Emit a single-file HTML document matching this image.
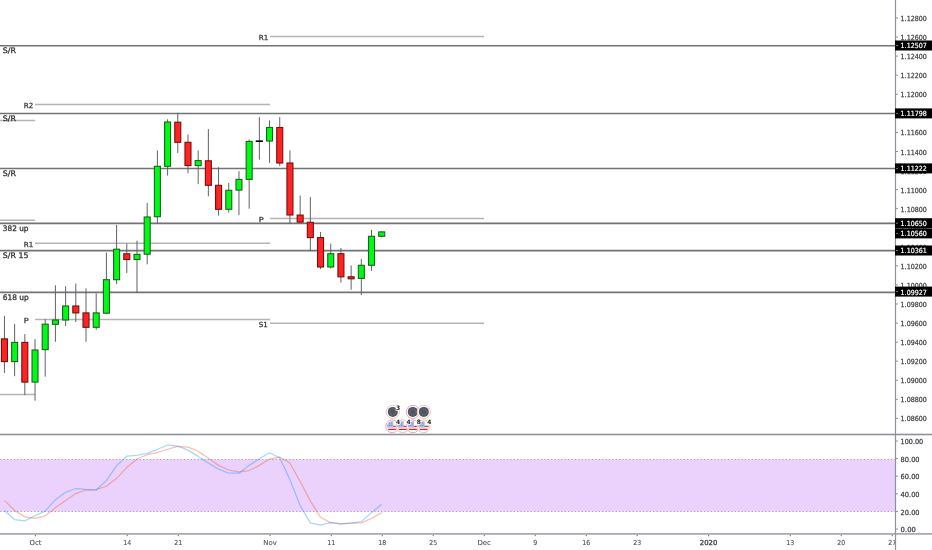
<!DOCTYPE html><html><head><meta charset="utf-8"><title>EURUSD chart</title><style>
html,body{margin:0;padding:0;background:#fff;width:932px;height:550px;overflow:hidden}
svg{display:block;will-change:transform}
text{font-family:"DejaVu Sans","Liberation Sans",sans-serif}
.lb{font-size:7.6px;fill:#333333;stroke:#333333;stroke-width:0.3px}
.ax{font-size:7.0px;fill:#444444;stroke:#444444;stroke-width:0.25px}
.pv{font-size:7.0px;fill:#333333;stroke:#333333;stroke-width:0.25px}
.tx{font-size:6.9px;fill:#505050;stroke:#505050;stroke-width:0.1px}
.wt{font-size:7.0px;fill:#fff;stroke:#fff;stroke-width:0.2px}
</style></head><body>
<svg width="932" height="550" viewBox="0 0 932 550">
<rect width="932" height="550" fill="#fff"/>
<line x1="0" y1="120.5" x2="35" y2="120.5" stroke="#b4b4b4" stroke-width="1.5"/>
<line x1="0" y1="220.2" x2="35" y2="220.2" stroke="#b4b4b4" stroke-width="1.5"/>
<line x1="0" y1="394.4" x2="35" y2="394.4" stroke="#b4b4b4" stroke-width="1.5"/>
<line x1="35" y1="104.6" x2="270" y2="104.6" stroke="#b4b4b4" stroke-width="1.5"/>
<text class="pv" x="23.8" y="107.8" textLength="9.5" lengthAdjust="spacingAndGlyphs">R2</text>
<line x1="35" y1="243.3" x2="270" y2="243.3" stroke="#b4b4b4" stroke-width="1.5"/>
<text class="pv" x="23.8" y="246.5" textLength="9.5" lengthAdjust="spacingAndGlyphs">R1</text>
<line x1="35" y1="319.5" x2="270" y2="319.5" stroke="#b4b4b4" stroke-width="1.5"/>
<text class="pv" x="23.8" y="322.7" textLength="4.9" lengthAdjust="spacingAndGlyphs">P</text>
<line x1="270" y1="36.56" x2="484" y2="36.56" stroke="#b4b4b4" stroke-width="1.5"/>
<text class="pv" x="258.8" y="39.76" textLength="9.5" lengthAdjust="spacingAndGlyphs">R1</text>
<line x1="270" y1="218.5" x2="484" y2="218.5" stroke="#b4b4b4" stroke-width="1.5"/>
<text class="pv" x="258.8" y="221.7" textLength="4.9" lengthAdjust="spacingAndGlyphs">P</text>
<line x1="270" y1="323.3" x2="484" y2="323.3" stroke="#b4b4b4" stroke-width="1.5"/>
<text class="pv" x="258.8" y="326.5" textLength="9" lengthAdjust="spacingAndGlyphs">S1</text>
<line x1="0" y1="45.8" x2="895" y2="45.8" stroke="#737373" stroke-width="1.6"/>
<text class="lb" x="2.8" y="53.2" textLength="13.2" lengthAdjust="spacingAndGlyphs">S/R</text>
<line x1="0" y1="113.45" x2="895" y2="113.45" stroke="#737373" stroke-width="1.6"/>
<text class="lb" x="2.8" y="121.1" textLength="13.2" lengthAdjust="spacingAndGlyphs">S/R</text>
<line x1="0" y1="168.5" x2="895" y2="168.5" stroke="#737373" stroke-width="1.6"/>
<text class="lb" x="2.8" y="176.15" textLength="13.2" lengthAdjust="spacingAndGlyphs">S/R</text>
<line x1="0" y1="223.35" x2="895" y2="223.35" stroke="#737373" stroke-width="1.6"/>
<text class="lb" x="2.8" y="230.9" textLength="25.7" lengthAdjust="spacingAndGlyphs">382 up</text>
<line x1="0" y1="250.67" x2="895" y2="250.67" stroke="#737373" stroke-width="1.6"/>
<text class="lb" x="2.8" y="258.2" textLength="25.6" lengthAdjust="spacingAndGlyphs">S/R 15</text>
<line x1="0" y1="292.33" x2="895" y2="292.33" stroke="#737373" stroke-width="1.6"/>
<text class="lb" x="2.8" y="299.7" textLength="26" lengthAdjust="spacingAndGlyphs">618 up</text>
<line x1="4.429" y1="316.4" x2="4.429" y2="372.5" stroke="#5f626a" stroke-width="1" stroke-linecap="square"/>
<rect x="1.429" y="338.9" width="6" height="22.7" fill="#ff2424" stroke="#7a0c0c" stroke-width="1.1"/>
<line x1="14.626" y1="324.5" x2="14.626" y2="375.7" stroke="#5f626a" stroke-width="1" stroke-linecap="square"/>
<rect x="11.626" y="342.4" width="6" height="19.2" fill="#00fa18" stroke="#1c641c" stroke-width="1.1"/>
<line x1="24.823" y1="334.6" x2="24.823" y2="394.7" stroke="#5f626a" stroke-width="1" stroke-linecap="square"/>
<rect x="21.823" y="342.4" width="6" height="39.7" fill="#ff2424" stroke="#7a0c0c" stroke-width="1.1"/>
<line x1="35.02" y1="339.7" x2="35.02" y2="400.2" stroke="#5f626a" stroke-width="1" stroke-linecap="square"/>
<rect x="32.02" y="350" width="6" height="32.1" fill="#00fa18" stroke="#1c641c" stroke-width="1.1"/>
<line x1="45.217" y1="319.6" x2="45.217" y2="376.2" stroke="#5f626a" stroke-width="1" stroke-linecap="square"/>
<rect x="42.217" y="324.2" width="6" height="25.4" fill="#00fa18" stroke="#1c641c" stroke-width="1.1"/>
<line x1="55.414" y1="285.8" x2="55.414" y2="341.3" stroke="#5f626a" stroke-width="1" stroke-linecap="square"/>
<rect x="52.414" y="320" width="6" height="4.3" fill="#00fa18" stroke="#1c641c" stroke-width="1.1"/>
<line x1="65.611" y1="286.7" x2="65.611" y2="325.6" stroke="#5f626a" stroke-width="1" stroke-linecap="square"/>
<rect x="62.611" y="306" width="6" height="14" fill="#00fa18" stroke="#1c641c" stroke-width="1.1"/>
<line x1="75.808" y1="284.1" x2="75.808" y2="321.6" stroke="#5f626a" stroke-width="1" stroke-linecap="square"/>
<rect x="72.808" y="306" width="6" height="6.9" fill="#ff2424" stroke="#7a0c0c" stroke-width="1.1"/>
<line x1="86.005" y1="288.9" x2="86.005" y2="341.3" stroke="#5f626a" stroke-width="1" stroke-linecap="square"/>
<rect x="83.005" y="312.9" width="6" height="14.4" fill="#ff2424" stroke="#7a0c0c" stroke-width="1.1"/>
<line x1="96.202" y1="293.9" x2="96.202" y2="329.3" stroke="#5f626a" stroke-width="1" stroke-linecap="square"/>
<rect x="93.202" y="312.9" width="6" height="14.4" fill="#00fa18" stroke="#1c641c" stroke-width="1.1"/>
<line x1="106.399" y1="253.1" x2="106.399" y2="313.4" stroke="#5f626a" stroke-width="1" stroke-linecap="square"/>
<rect x="103.399" y="279.7" width="6" height="33.5" fill="#00fa18" stroke="#1c641c" stroke-width="1.1"/>
<line x1="116.596" y1="225.4" x2="116.596" y2="283.5" stroke="#5f626a" stroke-width="1" stroke-linecap="square"/>
<rect x="113.596" y="249.2" width="6" height="30.5" fill="#00fa18" stroke="#1c641c" stroke-width="1.1"/>
<line x1="126.793" y1="244.1" x2="126.793" y2="272.5" stroke="#5f626a" stroke-width="1" stroke-linecap="square"/>
<rect x="123.793" y="253.8" width="6" height="5.7" fill="#ff2424" stroke="#7a0c0c" stroke-width="1.1"/>
<line x1="136.99" y1="241.2" x2="136.99" y2="292.6" stroke="#5f626a" stroke-width="1" stroke-linecap="square"/>
<rect x="133.99" y="254.4" width="6" height="5.1" fill="#00fa18" stroke="#1c641c" stroke-width="1.1"/>
<line x1="147.187" y1="203.4" x2="147.187" y2="263.8" stroke="#5f626a" stroke-width="1" stroke-linecap="square"/>
<rect x="144.187" y="217" width="6" height="37.2" fill="#00fa18" stroke="#1c641c" stroke-width="1.1"/>
<line x1="157.384" y1="151" x2="157.384" y2="223.2" stroke="#5f626a" stroke-width="1" stroke-linecap="square"/>
<rect x="154.384" y="166.3" width="6" height="50.4" fill="#00fa18" stroke="#1c641c" stroke-width="1.1"/>
<line x1="167.581" y1="119.8" x2="167.581" y2="175" stroke="#5f626a" stroke-width="1" stroke-linecap="square"/>
<rect x="164.581" y="122" width="6" height="44.3" fill="#00fa18" stroke="#1c641c" stroke-width="1.1"/>
<line x1="177.778" y1="113.3" x2="177.778" y2="152.5" stroke="#5f626a" stroke-width="1" stroke-linecap="square"/>
<rect x="174.778" y="122.2" width="6" height="20.1" fill="#ff2424" stroke="#7a0c0c" stroke-width="1.1"/>
<line x1="187.975" y1="135.1" x2="187.975" y2="172.8" stroke="#5f626a" stroke-width="1" stroke-linecap="square"/>
<rect x="184.975" y="142.3" width="6" height="23.3" fill="#ff2424" stroke="#7a0c0c" stroke-width="1.1"/>
<line x1="198.172" y1="151" x2="198.172" y2="183.7" stroke="#5f626a" stroke-width="1" stroke-linecap="square"/>
<rect x="195.172" y="160.6" width="6" height="5" fill="#00fa18" stroke="#1c641c" stroke-width="1.1"/>
<line x1="208.369" y1="129.6" x2="208.369" y2="195.8" stroke="#5f626a" stroke-width="1" stroke-linecap="square"/>
<rect x="205.369" y="160.8" width="6" height="24.5" fill="#ff2424" stroke="#7a0c0c" stroke-width="1.1"/>
<line x1="218.566" y1="167.8" x2="218.566" y2="215.2" stroke="#5f626a" stroke-width="1" stroke-linecap="square"/>
<rect x="215.566" y="185.3" width="6" height="24" fill="#ff2424" stroke="#7a0c0c" stroke-width="1.1"/>
<line x1="228.763" y1="183.5" x2="228.763" y2="212.1" stroke="#5f626a" stroke-width="1" stroke-linecap="square"/>
<rect x="225.763" y="190.3" width="6" height="19" fill="#00fa18" stroke="#1c641c" stroke-width="1.1"/>
<line x1="238.96" y1="171.7" x2="238.96" y2="214.7" stroke="#5f626a" stroke-width="1" stroke-linecap="square"/>
<rect x="235.96" y="179.4" width="6" height="10.7" fill="#00fa18" stroke="#1c641c" stroke-width="1.1"/>
<line x1="249.157" y1="140.1" x2="249.157" y2="208.2" stroke="#5f626a" stroke-width="1" stroke-linecap="square"/>
<rect x="246.157" y="141.4" width="6" height="38" fill="#00fa18" stroke="#1c641c" stroke-width="1.1"/>
<line x1="259.354" y1="117.6" x2="259.354" y2="159.1" stroke="#5f626a" stroke-width="1" stroke-linecap="square"/>
<line x1="255.754" y1="141.2" x2="262.954" y2="141.2" stroke="#000" stroke-width="1.6"/>
<line x1="269.551" y1="120.9" x2="269.551" y2="162.4" stroke="#5f626a" stroke-width="1" stroke-linecap="square"/>
<rect x="266.551" y="127.5" width="6" height="13.5" fill="#00fa18" stroke="#1c641c" stroke-width="1.1"/>
<line x1="279.748" y1="117.6" x2="279.748" y2="165.6" stroke="#5f626a" stroke-width="1" stroke-linecap="square"/>
<rect x="276.748" y="127.5" width="6" height="35.5" fill="#ff2424" stroke="#7a0c0c" stroke-width="1.1"/>
<line x1="289.945" y1="151" x2="289.945" y2="223.5" stroke="#5f626a" stroke-width="1" stroke-linecap="square"/>
<rect x="286.945" y="163" width="6" height="52" fill="#ff2424" stroke="#7a0c0c" stroke-width="1.1"/>
<line x1="300.142" y1="196.1" x2="300.142" y2="222.1" stroke="#5f626a" stroke-width="1" stroke-linecap="square"/>
<rect x="297.142" y="215.1" width="6" height="7" fill="#ff2424" stroke="#7a0c0c" stroke-width="1.1"/>
<line x1="310.339" y1="197.5" x2="310.339" y2="250.7" stroke="#5f626a" stroke-width="1" stroke-linecap="square"/>
<rect x="307.339" y="222.3" width="6" height="15.3" fill="#ff2424" stroke="#7a0c0c" stroke-width="1.1"/>
<line x1="320.536" y1="232.5" x2="320.536" y2="268.6" stroke="#5f626a" stroke-width="1" stroke-linecap="square"/>
<rect x="317.536" y="237.6" width="6" height="29.4" fill="#ff2424" stroke="#7a0c0c" stroke-width="1.1"/>
<line x1="330.733" y1="244.1" x2="330.733" y2="268.1" stroke="#5f626a" stroke-width="1" stroke-linecap="square"/>
<rect x="327.733" y="253.7" width="6" height="13.3" fill="#00fa18" stroke="#1c641c" stroke-width="1.1"/>
<line x1="340.93" y1="248.5" x2="340.93" y2="282.1" stroke="#5f626a" stroke-width="1" stroke-linecap="square"/>
<rect x="337.93" y="253.7" width="6" height="23.1" fill="#ff2424" stroke="#7a0c0c" stroke-width="1.1"/>
<line x1="351.127" y1="265.9" x2="351.127" y2="289.3" stroke="#5f626a" stroke-width="1" stroke-linecap="square"/>
<rect x="348.127" y="276.8" width="6" height="2" fill="#ff2424" stroke="#7a0c0c" stroke-width="1.1"/>
<line x1="361.324" y1="259.4" x2="361.324" y2="294.7" stroke="#5f626a" stroke-width="1" stroke-linecap="square"/>
<rect x="358.324" y="265.3" width="6" height="13.1" fill="#00fa18" stroke="#1c641c" stroke-width="1.1"/>
<line x1="371.521" y1="230.4" x2="371.521" y2="270.3" stroke="#5f626a" stroke-width="1" stroke-linecap="square"/>
<rect x="368.521" y="236.3" width="6" height="29" fill="#00fa18" stroke="#1c641c" stroke-width="1.1"/>
<line x1="381.718" y1="231.9" x2="381.718" y2="236.9" stroke="#5f626a" stroke-width="1" stroke-linecap="square"/>
<rect x="378.718" y="231.9" width="6" height="4.4" fill="#00fa18" stroke="#1c641c" stroke-width="1.1"/>
<circle cx="392.8" cy="411.9" r="6.6" fill="#fff" stroke="#f4c4b0" stroke-width="1"/><circle cx="392.8" cy="411.9" r="5" fill="#4c5562"/><circle cx="392.8" cy="411.9" r="2.9" fill="none" stroke="#a88e98" stroke-width="0.7" stroke-dasharray="0.8 1.0"/>
<circle cx="412.8" cy="411.9" r="6.6" fill="#fff" stroke="#eca8bc" stroke-width="1"/><circle cx="412.8" cy="411.9" r="5" fill="#4c5562"/><circle cx="412.8" cy="411.9" r="2.9" fill="none" stroke="#a88e98" stroke-width="0.7" stroke-dasharray="0.8 1.0"/>
<circle cx="423.8" cy="411.9" r="6.6" fill="#fff" stroke="#f4c4b0" stroke-width="1"/><circle cx="423.8" cy="411.9" r="5" fill="#4c5562"/><circle cx="423.8" cy="411.9" r="2.9" fill="none" stroke="#a88e98" stroke-width="0.7" stroke-dasharray="0.8 1.0"/>
<circle cx="392.2" cy="426.3" r="6.4" fill="#fff" stroke="#eaa6c0" stroke-width="1"/><clipPath id="c3922"><circle cx="392.2" cy="426.3" r="5.1"/></clipPath><g clip-path="url(#c3922)"><rect x="386.7" y="420.8" width="11" height="11" fill="#fff"/><rect x="386.7" y="425.8" width="11" height="1.1" fill="#f01818"/><rect x="386.7" y="428.8" width="11" height="1.2" fill="#f01818"/><rect x="386.7" y="420.8" width="6.6" height="6.8" fill="#a9b6e8"/><rect x="388.8" y="422.7" width="0.9" height="0.9" fill="#5f9a90"/><rect x="388.8" y="424.9" width="0.9" height="0.9" fill="#5f9a90"/><rect x="390.8" y="422.7" width="0.9" height="0.9" fill="#5f9a90"/><rect x="390.8" y="424.9" width="0.9" height="0.9" fill="#5f9a90"/></g>
<circle cx="402.6" cy="426.3" r="6.4" fill="#fff" stroke="#f4c4b0" stroke-width="1"/><clipPath id="c4026"><circle cx="402.6" cy="426.3" r="5.1"/></clipPath><g clip-path="url(#c4026)"><rect x="397.1" y="420.8" width="11" height="11" fill="#fff"/><rect x="397.1" y="425.8" width="11" height="1.1" fill="#f01818"/><rect x="397.1" y="428.8" width="11" height="1.2" fill="#f01818"/><rect x="397.1" y="420.8" width="6.6" height="6.8" fill="#a9b6e8"/><rect x="399.2" y="422.7" width="0.9" height="0.9" fill="#5f9a90"/><rect x="399.2" y="424.9" width="0.9" height="0.9" fill="#5f9a90"/><rect x="401.2" y="422.7" width="0.9" height="0.9" fill="#5f9a90"/><rect x="401.2" y="424.9" width="0.9" height="0.9" fill="#5f9a90"/></g>
<circle cx="412.9" cy="426.3" r="6.4" fill="#fff" stroke="#eaa6c0" stroke-width="1"/><clipPath id="c4129"><circle cx="412.9" cy="426.3" r="5.1"/></clipPath><g clip-path="url(#c4129)"><rect x="407.4" y="420.8" width="11" height="11" fill="#fff"/><rect x="407.4" y="425.8" width="11" height="1.1" fill="#f01818"/><rect x="407.4" y="428.8" width="11" height="1.2" fill="#f01818"/><rect x="407.4" y="420.8" width="6.6" height="6.8" fill="#a9b6e8"/><rect x="409.5" y="422.7" width="0.9" height="0.9" fill="#5f9a90"/><rect x="409.5" y="424.9" width="0.9" height="0.9" fill="#5f9a90"/><rect x="411.5" y="422.7" width="0.9" height="0.9" fill="#5f9a90"/><rect x="411.5" y="424.9" width="0.9" height="0.9" fill="#5f9a90"/></g>
<circle cx="423.6" cy="426.3" r="6.4" fill="#fff" stroke="#f4c4b0" stroke-width="1"/><clipPath id="c4236"><circle cx="423.6" cy="426.3" r="5.1"/></clipPath><g clip-path="url(#c4236)"><rect x="418.1" y="420.8" width="11" height="11" fill="#fff"/><rect x="418.1" y="425.8" width="11" height="1.1" fill="#f01818"/><rect x="418.1" y="428.8" width="11" height="1.2" fill="#f01818"/><rect x="418.1" y="420.8" width="6.6" height="6.8" fill="#a9b6e8"/><rect x="420.2" y="422.7" width="0.9" height="0.9" fill="#5f9a90"/><rect x="420.2" y="424.9" width="0.9" height="0.9" fill="#5f9a90"/><rect x="422.2" y="422.7" width="0.9" height="0.9" fill="#5f9a90"/><rect x="422.2" y="424.9" width="0.9" height="0.9" fill="#5f9a90"/></g>
<text x="398.2" y="409.9" font-size="6" font-weight="bold" fill="#1a1a1a" text-anchor="middle" stroke="#fff" stroke-width="1.4" paint-order="stroke">3</text>
<text x="398.2" y="423.9" font-size="6" font-weight="bold" fill="#1a1a1a" text-anchor="middle" stroke="#fff" stroke-width="1.4" paint-order="stroke">4</text>
<text x="408.6" y="423.9" font-size="6" font-weight="bold" fill="#1a1a1a" text-anchor="middle" stroke="#fff" stroke-width="1.4" paint-order="stroke">4</text>
<text x="418.8" y="423.9" font-size="6" font-weight="bold" fill="#1a1a1a" text-anchor="middle" stroke="#fff" stroke-width="1.4" paint-order="stroke">8</text>
<text x="429.3" y="423.9" font-size="6" font-weight="bold" fill="#1a1a1a" text-anchor="middle" stroke="#fff" stroke-width="1.4" paint-order="stroke">4</text>
<rect x="0" y="459.3" width="895" height="52.2" fill="#ead2fd"/>
<line x1="0" y1="459.5" x2="895" y2="459.5" stroke="#b0a2c4" stroke-width="1" stroke-dasharray="1.4 2" stroke-dashoffset="3.2"/>
<line x1="0" y1="511.5" x2="895" y2="511.5" stroke="#b0a2c4" stroke-width="1" stroke-dasharray="1.4 2" stroke-dashoffset="3.2"/>
<polyline points="4.429,500.4 14.626,510.52 24.823,516.856 35.02,518.44 45.217,515.8 55.414,507.704 65.611,500.4 75.808,493.536 86.005,490.016 96.202,489.664 106.399,486.232 116.596,478.312 126.793,467.576 136.99,459.04 147.187,454.728 157.384,452.528 167.581,449.272 177.778,446.456 187.975,447.16 198.172,451.208 208.369,458.336 218.566,465.376 228.763,470.04 238.96,471.976 249.157,470.568 259.354,465.376 269.551,459.04 279.748,457.104 289.945,463 300.142,481.48 310.339,500.84 320.536,517.296 330.733,522.84 340.93,523.984 351.127,523.192 361.324,522.84 371.521,518.528 381.718,512.632" fill="none" stroke="#f4511e" stroke-opacity="0.38" stroke-width="1.25" stroke-linejoin="round"/>
<polyline points="4.429,510.52 14.626,519.672 24.823,520.816 35.02,515.8 45.217,511.136 55.414,499.696 65.611,492.216 75.808,488.52 86.005,489.4 96.202,490.016 106.399,480.6 116.596,465.64 126.793,456.224 136.99,455.256 147.187,453.32 157.384,449.272 167.581,444.96 177.778,446.016 187.975,450.152 198.172,456.4 208.369,463 218.566,469.16 228.763,473.208 238.96,473.208 249.157,465.376 259.354,458.776 269.551,452.704 279.748,457.896 289.945,479.632 300.142,505.504 310.339,522.84 320.536,525.128 330.733,522.488 340.93,523.984 351.127,523.192 361.324,521.608 371.521,512.632 381.718,504.36" fill="none" stroke="#2196f3" stroke-opacity="0.4" stroke-width="1.25" stroke-linejoin="round"/>
<rect x="0" y="433.7" width="932" height="1.6" fill="#8e9199"/>
<rect x="0" y="533" width="932" height="1.8" fill="#a9acb4"/>
<rect x="894.9" y="0" width="1.2" height="550" fill="#8e9199"/>
<line x1="896" y1="18" x2="898" y2="18" stroke="#8e9199" stroke-width="1"/>
<text class="ax" x="900.6" y="21.1" textLength="26.2" lengthAdjust="spacingAndGlyphs">1.12800</text>
<line x1="896" y1="37.066" x2="898" y2="37.066" stroke="#8e9199" stroke-width="1"/>
<text class="ax" x="900.6" y="40.166" textLength="26.2" lengthAdjust="spacingAndGlyphs">1.12600</text>
<line x1="896" y1="56.132" x2="898" y2="56.132" stroke="#8e9199" stroke-width="1"/>
<text class="ax" x="900.6" y="59.232" textLength="26.2" lengthAdjust="spacingAndGlyphs">1.12400</text>
<line x1="896" y1="75.198" x2="898" y2="75.198" stroke="#8e9199" stroke-width="1"/>
<text class="ax" x="900.6" y="78.298" textLength="26.2" lengthAdjust="spacingAndGlyphs">1.12200</text>
<line x1="896" y1="94.264" x2="898" y2="94.264" stroke="#8e9199" stroke-width="1"/>
<text class="ax" x="900.6" y="97.364" textLength="26.2" lengthAdjust="spacingAndGlyphs">1.12000</text>
<line x1="896" y1="113.33" x2="898" y2="113.33" stroke="#8e9199" stroke-width="1"/>
<text class="ax" x="900.6" y="116.43" textLength="26.2" lengthAdjust="spacingAndGlyphs">1.11800</text>
<line x1="896" y1="132.396" x2="898" y2="132.396" stroke="#8e9199" stroke-width="1"/>
<text class="ax" x="900.6" y="135.496" textLength="26.2" lengthAdjust="spacingAndGlyphs">1.11600</text>
<line x1="896" y1="151.462" x2="898" y2="151.462" stroke="#8e9199" stroke-width="1"/>
<text class="ax" x="900.6" y="154.562" textLength="26.2" lengthAdjust="spacingAndGlyphs">1.11400</text>
<line x1="896" y1="170.528" x2="898" y2="170.528" stroke="#8e9199" stroke-width="1"/>
<text class="ax" x="900.6" y="173.628" textLength="26.2" lengthAdjust="spacingAndGlyphs">1.11200</text>
<line x1="896" y1="189.594" x2="898" y2="189.594" stroke="#8e9199" stroke-width="1"/>
<text class="ax" x="900.6" y="192.694" textLength="26.2" lengthAdjust="spacingAndGlyphs">1.11000</text>
<line x1="896" y1="208.66" x2="898" y2="208.66" stroke="#8e9199" stroke-width="1"/>
<text class="ax" x="900.6" y="211.76" textLength="26.2" lengthAdjust="spacingAndGlyphs">1.10800</text>
<line x1="896" y1="227.726" x2="898" y2="227.726" stroke="#8e9199" stroke-width="1"/>
<text class="ax" x="900.6" y="230.826" textLength="26.2" lengthAdjust="spacingAndGlyphs">1.10600</text>
<line x1="896" y1="246.792" x2="898" y2="246.792" stroke="#8e9199" stroke-width="1"/>
<text class="ax" x="900.6" y="249.892" textLength="26.2" lengthAdjust="spacingAndGlyphs">1.10400</text>
<line x1="896" y1="265.858" x2="898" y2="265.858" stroke="#8e9199" stroke-width="1"/>
<text class="ax" x="900.6" y="268.958" textLength="26.2" lengthAdjust="spacingAndGlyphs">1.10200</text>
<line x1="896" y1="284.924" x2="898" y2="284.924" stroke="#8e9199" stroke-width="1"/>
<text class="ax" x="900.6" y="288.024" textLength="26.2" lengthAdjust="spacingAndGlyphs">1.10000</text>
<line x1="896" y1="303.99" x2="898" y2="303.99" stroke="#8e9199" stroke-width="1"/>
<text class="ax" x="900.6" y="307.09" textLength="26.2" lengthAdjust="spacingAndGlyphs">1.09800</text>
<line x1="896" y1="323.056" x2="898" y2="323.056" stroke="#8e9199" stroke-width="1"/>
<text class="ax" x="900.6" y="326.156" textLength="26.2" lengthAdjust="spacingAndGlyphs">1.09600</text>
<line x1="896" y1="342.122" x2="898" y2="342.122" stroke="#8e9199" stroke-width="1"/>
<text class="ax" x="900.6" y="345.222" textLength="26.2" lengthAdjust="spacingAndGlyphs">1.09400</text>
<line x1="896" y1="361.188" x2="898" y2="361.188" stroke="#8e9199" stroke-width="1"/>
<text class="ax" x="900.6" y="364.288" textLength="26.2" lengthAdjust="spacingAndGlyphs">1.09200</text>
<line x1="896" y1="380.254" x2="898" y2="380.254" stroke="#8e9199" stroke-width="1"/>
<text class="ax" x="900.6" y="383.354" textLength="26.2" lengthAdjust="spacingAndGlyphs">1.09000</text>
<line x1="896" y1="399.32" x2="898" y2="399.32" stroke="#8e9199" stroke-width="1"/>
<text class="ax" x="900.6" y="402.42" textLength="26.2" lengthAdjust="spacingAndGlyphs">1.08800</text>
<line x1="896" y1="418.386" x2="898" y2="418.386" stroke="#8e9199" stroke-width="1"/>
<text class="ax" x="900.6" y="421.486" textLength="26.2" lengthAdjust="spacingAndGlyphs">1.08600</text>
<line x1="896" y1="441" x2="898" y2="441" stroke="#8e9199" stroke-width="1"/>
<text class="ax" x="900.6" y="444.2" textLength="22.6" lengthAdjust="spacingAndGlyphs">100.00</text>
<line x1="896" y1="458.6" x2="898" y2="458.6" stroke="#8e9199" stroke-width="1"/>
<text class="ax" x="900.6" y="461.8" textLength="19" lengthAdjust="spacingAndGlyphs">80.00</text>
<line x1="896" y1="476.2" x2="898" y2="476.2" stroke="#8e9199" stroke-width="1"/>
<text class="ax" x="900.6" y="479.4" textLength="19" lengthAdjust="spacingAndGlyphs">60.00</text>
<line x1="896" y1="493.8" x2="898" y2="493.8" stroke="#8e9199" stroke-width="1"/>
<text class="ax" x="900.6" y="497" textLength="19" lengthAdjust="spacingAndGlyphs">40.00</text>
<line x1="896" y1="511.4" x2="898" y2="511.4" stroke="#8e9199" stroke-width="1"/>
<text class="ax" x="900.6" y="514.6" textLength="19" lengthAdjust="spacingAndGlyphs">20.00</text>
<line x1="896" y1="529" x2="898" y2="529" stroke="#8e9199" stroke-width="1"/>
<text class="ax" x="900.6" y="532.2" textLength="15.3" lengthAdjust="spacingAndGlyphs">0.00</text>
<rect x="895" y="40.5" width="37" height="10" fill="#000"/>
<line x1="896" y1="45.5" x2="898" y2="45.5" stroke="#777" stroke-width="1"/>
<text class="wt" x="900.6" y="48.4" textLength="26.2" lengthAdjust="spacingAndGlyphs">1.12507</text>
<rect x="895" y="108.4" width="37" height="10" fill="#000"/>
<line x1="896" y1="113.4" x2="898" y2="113.4" stroke="#777" stroke-width="1"/>
<text class="wt" x="900.6" y="116.3" textLength="26.2" lengthAdjust="spacingAndGlyphs">1.11798</text>
<rect x="895" y="163.4" width="37" height="10" fill="#000"/>
<line x1="896" y1="168.4" x2="898" y2="168.4" stroke="#777" stroke-width="1"/>
<text class="wt" x="900.6" y="171.3" textLength="26.2" lengthAdjust="spacingAndGlyphs">1.11222</text>
<rect x="895" y="218.2" width="37" height="10" fill="#000"/>
<line x1="896" y1="223.2" x2="898" y2="223.2" stroke="#777" stroke-width="1"/>
<text class="wt" x="900.6" y="226.1" textLength="26.2" lengthAdjust="spacingAndGlyphs">1.10650</text>
<rect x="895" y="228.4" width="37" height="10" fill="#000"/>
<line x1="896" y1="233.4" x2="898" y2="233.4" stroke="#777" stroke-width="1"/>
<text class="wt" x="900.6" y="236.3" textLength="26.2" lengthAdjust="spacingAndGlyphs">1.10560</text>
<rect x="895" y="245.5" width="37" height="10" fill="#000"/>
<line x1="896" y1="250.5" x2="898" y2="250.5" stroke="#777" stroke-width="1"/>
<text class="wt" x="900.6" y="253.4" textLength="26.2" lengthAdjust="spacingAndGlyphs">1.10361</text>
<rect x="895" y="286.6" width="37" height="10" fill="#000"/>
<line x1="896" y1="291.6" x2="898" y2="291.6" stroke="#777" stroke-width="1"/>
<text class="wt" x="900.6" y="294.5" textLength="26.2" lengthAdjust="spacingAndGlyphs">1.09927</text>
<clipPath id="tclip"><rect x="0" y="530" width="895" height="20"/></clipPath><g clip-path="url(#tclip)">
<line x1="35.42" y1="534.8" x2="35.42" y2="536.2" stroke="#666" stroke-width="1"/>
<text class="tx" x="35.42" y="544.9" text-anchor="middle">Oct</text>
<line x1="127.22" y1="534.8" x2="127.22" y2="536.2" stroke="#666" stroke-width="1"/>
<text class="tx" x="127.22" y="544.9" text-anchor="middle" textLength="7.89912" lengthAdjust="spacingAndGlyphs">14</text>
<line x1="178.22" y1="534.8" x2="178.22" y2="536.2" stroke="#666" stroke-width="1"/>
<text class="tx" x="178.22" y="544.9" text-anchor="middle" textLength="7.89912" lengthAdjust="spacingAndGlyphs">21</text>
<line x1="270.02" y1="534.8" x2="270.02" y2="536.2" stroke="#666" stroke-width="1"/>
<text class="tx" x="270.02" y="544.9" text-anchor="middle">Nov</text>
<line x1="331.22" y1="534.8" x2="331.22" y2="536.2" stroke="#666" stroke-width="1"/>
<text class="tx" x="331.22" y="544.9" text-anchor="middle" textLength="7.89912" lengthAdjust="spacingAndGlyphs">11</text>
<line x1="382.22" y1="534.8" x2="382.22" y2="536.2" stroke="#666" stroke-width="1"/>
<text class="tx" x="382.22" y="544.9" text-anchor="middle" textLength="7.89912" lengthAdjust="spacingAndGlyphs">18</text>
<line x1="433.22" y1="534.8" x2="433.22" y2="536.2" stroke="#666" stroke-width="1"/>
<text class="tx" x="433.22" y="544.9" text-anchor="middle" textLength="7.89912" lengthAdjust="spacingAndGlyphs">25</text>
<line x1="484.22" y1="534.8" x2="484.22" y2="536.2" stroke="#666" stroke-width="1"/>
<text class="tx" x="484.22" y="544.9" text-anchor="middle">Dec</text>
<line x1="535.22" y1="534.8" x2="535.22" y2="536.2" stroke="#666" stroke-width="1"/>
<text class="tx" x="535.22" y="544.9" text-anchor="middle" textLength="3.94956" lengthAdjust="spacingAndGlyphs">9</text>
<line x1="586.22" y1="534.8" x2="586.22" y2="536.2" stroke="#666" stroke-width="1"/>
<text class="tx" x="586.22" y="544.9" text-anchor="middle" textLength="7.89912" lengthAdjust="spacingAndGlyphs">16</text>
<line x1="637.22" y1="534.8" x2="637.22" y2="536.2" stroke="#666" stroke-width="1"/>
<text class="tx" x="637.22" y="544.9" text-anchor="middle" textLength="7.89912" lengthAdjust="spacingAndGlyphs">23</text>
<line x1="708.62" y1="534.8" x2="708.62" y2="536.2" stroke="#666" stroke-width="1"/>
<text class="tx" x="708.62" y="544.9" text-anchor="middle" style="stroke:#444;stroke-width:0.35px" textLength="17.6" lengthAdjust="spacingAndGlyphs">2020</text>
<line x1="790.22" y1="534.8" x2="790.22" y2="536.2" stroke="#666" stroke-width="1"/>
<text class="tx" x="790.22" y="544.9" text-anchor="middle" textLength="7.89912" lengthAdjust="spacingAndGlyphs">13</text>
<line x1="841.22" y1="534.8" x2="841.22" y2="536.2" stroke="#666" stroke-width="1"/>
<text class="tx" x="841.22" y="544.9" text-anchor="middle" textLength="7.89912" lengthAdjust="spacingAndGlyphs">20</text>
<line x1="892.22" y1="534.8" x2="892.22" y2="536.2" stroke="#666" stroke-width="1"/>
<text class="tx" x="892.22" y="544.9" text-anchor="middle" textLength="7.89912" lengthAdjust="spacingAndGlyphs">27</text>
</g>
</svg></body></html>
